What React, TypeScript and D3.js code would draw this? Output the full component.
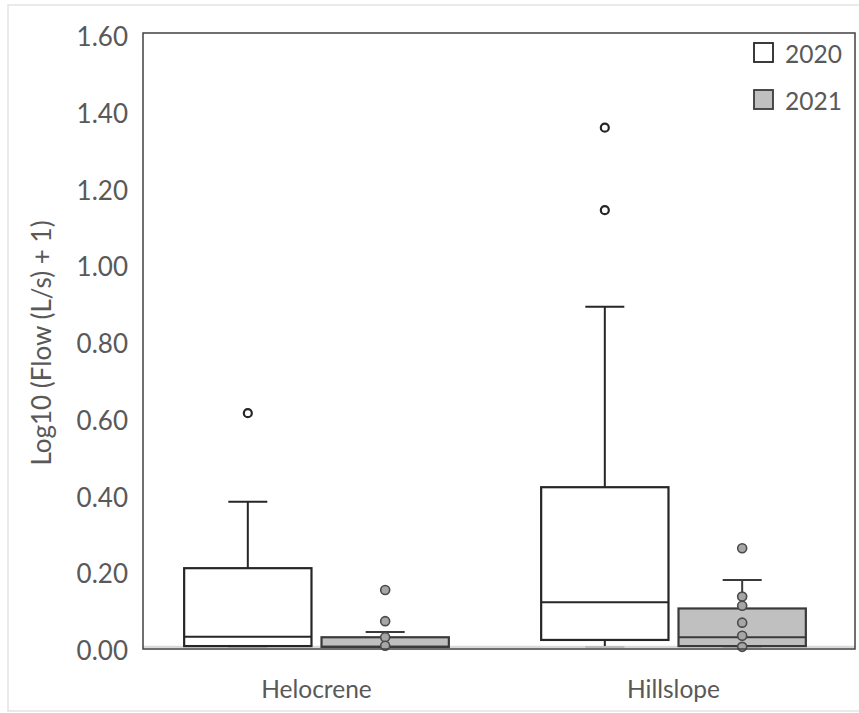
import React from "react";
import * as d3 from "d3";

const categories = ["Helocrene", "Hillslope"];
const years = ["2020", "2021"];
const yTicks = [0, 0.2, 0.4, 0.6, 0.8, 1.0, 1.2, 1.4, 1.6];

// 2020 box statistics per category
const min2020 = [0, 0];
const q1_2020 = [0.005, 0.021];
const median2020 = [0.029, 0.119];
const q3_2020 = [0.208, 0.419];
const max2020 = [0.381, 0.889];
const outliers2020 = [[0.612], [1.356, 1.141]];

// 2021 box statistics per category
const min2021 = [0, 0];
const q1_2021 = [0.003, 0.005];
const median2021 = [0.003, 0.028];
const q3_2021 = [0.028, 0.103];
const max2021 = [0.042, 0.177];
const outliers2021 = [
  [0.151, 0.07, 0.028, 0.006],
  [0.26, 0.134, 0.11, 0.066, 0.032, 0.003],
];

const W = 859;
const H = 713;
const frame = { left: 143, right: 855, top: 33, bottom: 649 };
const font = "Lato, 'Open Sans', sans-serif";
const textColor = "#595959";

export default function App() {
  const y = d3.scaleLinear().domain([0, 1.6]).range([648, 34]);
  const x = d3.scaleBand().domain(categories).range([138, 852]);
  const inner = d3
    .scaleBand()
    .domain(years)
    .range([0, x.bandwidth()])
    .paddingInner(0.073)
    .paddingOuter(0.336);

  const series = [
    { year: "2020", min: min2020, q1: q1_2020, med: median2020, q3: q3_2020, max: max2020, out: outliers2020, fill: "#ffffff", stroke: "#262626", ofill: "#ffffff", ostroke: "#262626" },
    { year: "2021", min: min2021, q1: q1_2021, med: median2021, q3: q3_2021, max: max2021, out: outliers2021, fill: "#c0c0c0", stroke: "#3a3a3a", ofill: "#a6a6a6", ostroke: "#4a4a4a" },
  ];

  const bw = inner.bandwidth();
  const capW = 39;

  return (
    <svg width={W} height={H} style={{ position: "absolute", left: 0, top: 0, background: "#fff" }}>
      <rect x={8} y={5} width={W} height={H - 7} fill="#fff" stroke="#e3e3e3" strokeWidth={1.5} />
      {/* baseline gray */}
      <line x1={frame.left} x2={frame.right} y1={y(0) - 1} y2={y(0) - 1} stroke="#d9d9d9" strokeWidth={2.5} />
      {series.map((s) =>
        categories.map((c, i) => {
          const x0 = (x(c) as number) + (inner(s.year) as number);
          const cx = x0 + bw / 2;
          return (
            <g key={s.year + c}>
              <line x1={cx} x2={cx} y1={y(s.q3[i])} y2={y(s.max[i])} stroke={s.stroke} strokeWidth={2} />
              <line x1={cx - capW / 2} x2={cx + capW / 2} y1={y(s.max[i])} y2={y(s.max[i])} stroke={s.stroke} strokeWidth={2} />
              <line x1={cx} x2={cx} y1={y(s.q1[i])} y2={y(s.min[i])} stroke={s.stroke} strokeWidth={2} />
              <line x1={cx - capW / 2} x2={cx + capW / 2} y1={y(s.min[i]) - 1} y2={y(s.min[i]) - 1} stroke="#bdbdbd" strokeWidth={2} />
              <rect x={x0} y={y(s.q3[i])} width={bw} height={y(s.q1[i]) - y(s.q3[i])} fill={s.fill} stroke={s.stroke} strokeWidth={2.2} />
              <line x1={x0} x2={x0 + bw} y1={y(s.med[i])} y2={y(s.med[i])} stroke={s.stroke} strokeWidth={2} />
              {s.out[i].map((v, k) => (
                <circle key={k} cx={cx} cy={y(v)} r={s.year === "2020" ? 4 : 4.5} fill={s.ofill} stroke={s.ostroke} strokeWidth={s.year === "2020" ? 2.2 : 1.6} />
              ))}
            </g>
          );
        })
      )}
      {/* frame */}
      <rect x={frame.left} y={frame.top} width={frame.right - frame.left} height={frame.bottom - frame.top} fill="none" stroke="#404040" strokeWidth={1.5} />
      {/* y tick labels */}
      {yTicks.map((t) => (
        <text key={t} x={128} y={y(t) + 2} textAnchor="end" dominantBaseline="central" fontFamily={font} fontSize={26} fill={textColor}>
          {d3.format(".2f")(t)}
        </text>
      ))}
      {/* category labels */}
      {categories.map((c) => (
        <text key={c} x={(x(c) as number) + x.bandwidth() / 2} y={688} textAnchor="middle" dominantBaseline="central" fontFamily={font} fontSize={24.5} fill={textColor}>
          {c}
        </text>
      ))}
      {/* y axis title */}
      <text transform={`translate(41,343) rotate(-90)`} textAnchor="middle" dominantBaseline="central" fontFamily={font} fontSize={26} fill={textColor}>
        Log10 (Flow (L/s) + 1)
      </text>
      {/* legend */}
      {series.map((s, i) => (
        <g key={s.year} transform={`translate(754, ${43 + i * 47})`}>
          <rect x={0} y={0} width={19} height={19} fill={s.fill} stroke={s.stroke} strokeWidth={1.8} />
          <text x={31} y={10} dominantBaseline="central" fontFamily={font} fontSize={24.5} fill={textColor}>
            {s.year}
          </text>
        </g>
      ))}
    </svg>
  );
}
